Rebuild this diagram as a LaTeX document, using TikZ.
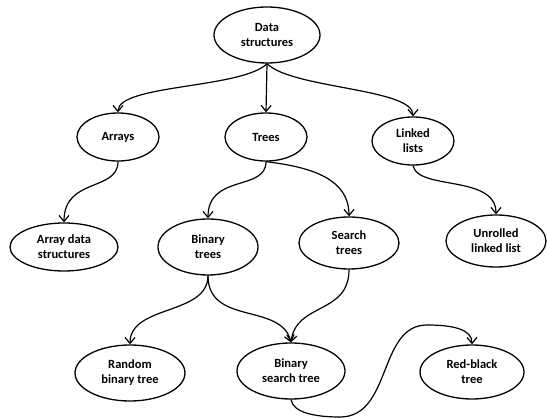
\documentclass[tikz,border=0pt]{standalone}
\usepackage{fontspec}
\setmainfont{Carlito}
\usetikzlibrary{shapes.geometric,arrows.meta}
\begin{document}
\begin{tikzpicture}[x=1pt,y=1pt,
  el/.style={ellipse,draw,line width=1.3pt,inner sep=0pt,align=center,
    font=\fontsize{12.5}{15}\selectfont\bfseries},
  conn/.style={line width=1.2pt,-{Straight Barb[length=6pt,width=10pt]}}]
\useasboundingbox (0,0) rectangle (547,418);
\node[el,minimum width=106pt,minimum height=56pt] (ds)  at (267,383) {Data\\structures};
\node[el,minimum width=82pt,minimum height=48pt]  (arr) at (118,281) {Arrays};
\node[el,minimum width=82pt,minimum height=48pt]  (tr)  at (266,281) {Trees};
\node[el,minimum width=82pt,minimum height=48pt]  (ll)  at (413,277) {Linked\\lists};
\node[el,minimum width=108pt,minimum height=48pt] (ads) at (64,171)  {Array data\\structures};
\node[el,minimum width=100pt,minimum height=56pt] (bt)  at (208,171) {Binary\\trees};
\node[el,minimum width=100pt,minimum height=52pt] (st)  at (349,175) {Search\\trees};
\node[el,minimum width=100pt,minimum height=52pt] (ull) at (496,177) {Unrolled\\linked list};
\node[el,minimum width=110pt,minimum height=56pt] (rbt) at (130,45)  {Random\\binary tree};
\node[el,minimum width=108pt,minimum height=56pt] (bst) at (291,47)  {Binary\\search tree};
\node[el,minimum width=104pt,minimum height=54pt] (rb)  at (472,46)  {Red-black\\tree};

\draw[conn] (ds.south) .. controls +(-25,-25) and +(0,28) .. (arr.north);
\draw[conn] (ds.south) -- (tr.north);
\draw[conn] (ds.south) .. controls +(25,-25) and +(0,28) .. (ll.north);
\draw[conn] (arr.south) .. controls +(0,-30) and +(0,45) .. (ads.north);
\draw[conn] (tr.south) .. controls +(0,-30) and +(0,45) .. (bt.north);
\draw[conn] (tr.south) .. controls +(40,-5) and +(0,40) .. (st.north);
\draw[conn] (ll.south) .. controls +(5,-25) and +(0,40) .. (ull.north);
\draw[conn] (bt.south) .. controls +(0,-40) and +(0,40) .. (rbt.north);
\draw[conn] (bt.south) .. controls +(0,-50) and +(-10,40) .. (bst.north);
\draw[conn] (st.south) .. controls +(0,-45) and +(5,40) .. (bst.north);
\draw[conn] (bst.south) .. controls +(2,-13) and (315,1) .. (340,1)
  .. controls (392,1) and (378,93) .. (427,93)
  .. controls (455,93) and (472,88) .. (rb.north);
\end{tikzpicture}
\end{document}
